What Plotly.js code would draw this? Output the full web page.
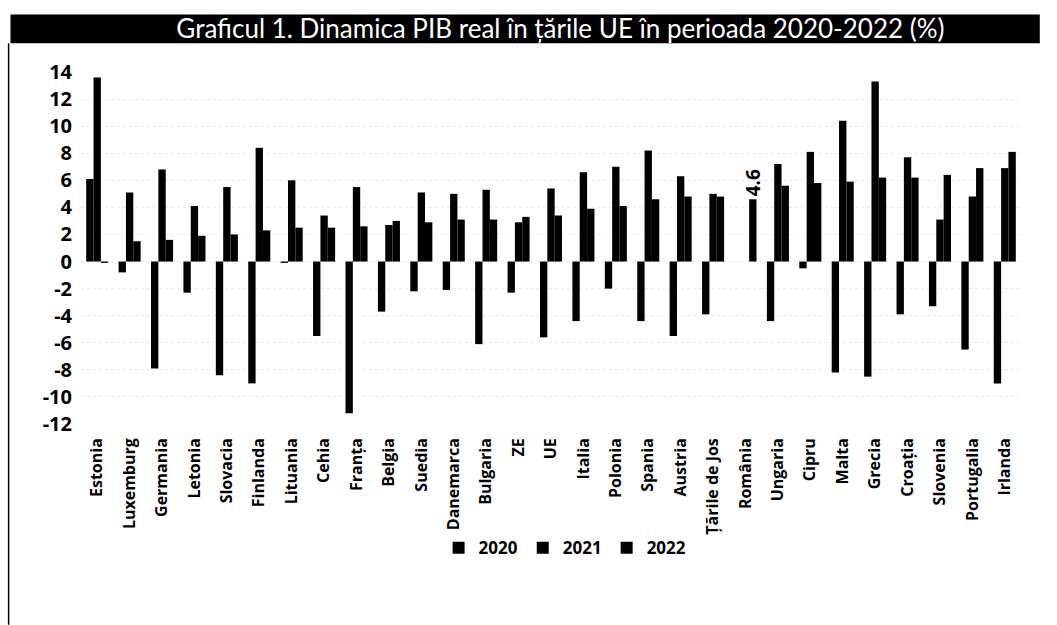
<!DOCTYPE html>
<html>
<head>
<meta charset="utf-8">
<script src="https://cdn.plot.ly/plotly-3.0.1.min.js"></script>
<style>
  html, body { margin: 0; padding: 0; background: #ffffff; }
  #chart { width: 1057px; height: 625px; }
</style>
</head>
<body>
<div id="chart"></div>
<script>
const categories = ["Estonia","Luxemburg","Germania","Letonia","Slovacia","Finlanda","Lituania","Cehia","Franța","Belgia","Suedia","Danemarca","Bulgaria","ZE","UE","Italia","Polonia","Spania","Austria","Țările de Jos","România","Ungaria","Cipru","Malta","Grecia","Croația","Slovenia","Portugalia","Irlanda"];
const values2020 = [6.1,-0.8,-7.9,-2.3,-8.4,-9.0,-0.1,-5.5,-11.2,-3.7,-2.2,-2.1,-6.1,-2.3,-5.6,-4.4,-2.0,-4.4,-5.5,-3.9,null,-4.4,-0.5,-8.2,-8.5,-3.9,-3.3,-6.5,-9.0];
const values2021 = [13.6,5.1,6.8,4.1,5.5,8.4,6.0,3.4,5.5,2.7,5.1,5.0,5.3,2.9,5.4,6.6,7.0,8.2,6.3,5.0,null,7.2,8.1,10.4,13.3,7.7,3.1,4.8,6.9];
const values2022 = [-0.1,1.5,1.6,1.9,2.0,2.3,2.5,2.5,2.6,3.0,2.9,3.1,3.1,3.3,3.4,3.9,4.1,4.6,4.8,4.8,4.6,5.6,5.8,5.9,6.2,6.2,6.4,6.9,8.1];
const seriesNames = ["2020","2021","2022"];
const yTicks = [-12,-10,-8,-6,-4,-2,0,2,4,6,8,10,12,14];
const labelledCategory = "România";

const boldFont = "'Open Sans', 'Noto Sans', sans-serif";
const labels2022 = values2022.map((v, i) => categories[i] === labelledCategory ? v.toFixed(1) : "");

const barColor = "#000000";
const mk = (name, y, extra) => Object.assign({
  type: "bar", name: name, x: categories, y: y,
  marker: { color: barColor },
  hoverinfo: "x+y"
}, extra || {});

const data = [
  mk(seriesNames[0], values2020),
  mk(seriesNames[1], values2021),
  mk(seriesNames[2], values2022, {
    text: labels2022, textposition: "outside", textangle: -90,
    constraintext: "none", cliponaxis: false,
    textfont: { family: boldFont, size: 19, color: "#000", weight: 700 }
  })
];

const layout = {
  width: 1057, height: 625,
  paper_bgcolor: "#ffffff", plot_bgcolor: "#ffffff",
  margin: { l: 81, r: 36, t: 72, b: 201 },
  barmode: "group", bargap: 0.32, bargroupgap: 0,
  font: { family: boldFont, color: "#000" },
  title: {
    text: "Graficul 1. Dinamica PIB real în țările UE în perioada 2020-2022 (%)",
    font: { family: "Lato, sans-serif", size: 26, color: "#ffffff" },
    x: 0.51, xanchor: "center", xref: "paper",
    y: 0.953, yanchor: "middle", yref: "container"
  },
  xaxis: {
    type: "category",
    tickangle: -90,
    tickfont: { family: boldFont, size: 16, color: "#000", weight: 700 },
    showgrid: false, showline: false, ticks: "",
    ticklabelstandoff: 10
  },
  yaxis: {
    range: [-12, 14],
    tickmode: "array", tickvals: yTicks, ticktext: yTicks.map(String),
    tickfont: { family: boldFont, size: 20, color: "#000", weight: 700 },
    showgrid: true, gridcolor: "#ececec", griddash: "dot", gridwidth: 1,
    zeroline: false, showline: false, ticks: "",
    ticklabelstandoff: 8
  },
  legend: {
    orientation: "h", x: 0.515, xanchor: "center", y: -0.353, yanchor: "middle",
    bgcolor: "rgba(0,0,0,0)",
    font: { family: boldFont, size: 17, color: "#000", weight: 700 },
    itemwidth: 30, traceorder: "normal"
  },
  shapes: [
    { type: "rect", xref: "paper", yref: "paper", layer: "below",
      x0: -0.075, x1: 1.02, y0: 1.082, y1: 1.163,
      fillcolor: "#000000", line: { width: 0 } },
    { type: "line", xref: "paper", yref: "paper", layer: "below",
      x0: -0.077, x1: -0.077, y0: 1.082, y1: -0.57,
      line: { color: "#000", width: 1.5 } }
  ],
  showlegend: true
};

Plotly.newPlot("chart", data, layout, { displayModeBar: false, staticPlot: true });
</script>
</body>
</html>
